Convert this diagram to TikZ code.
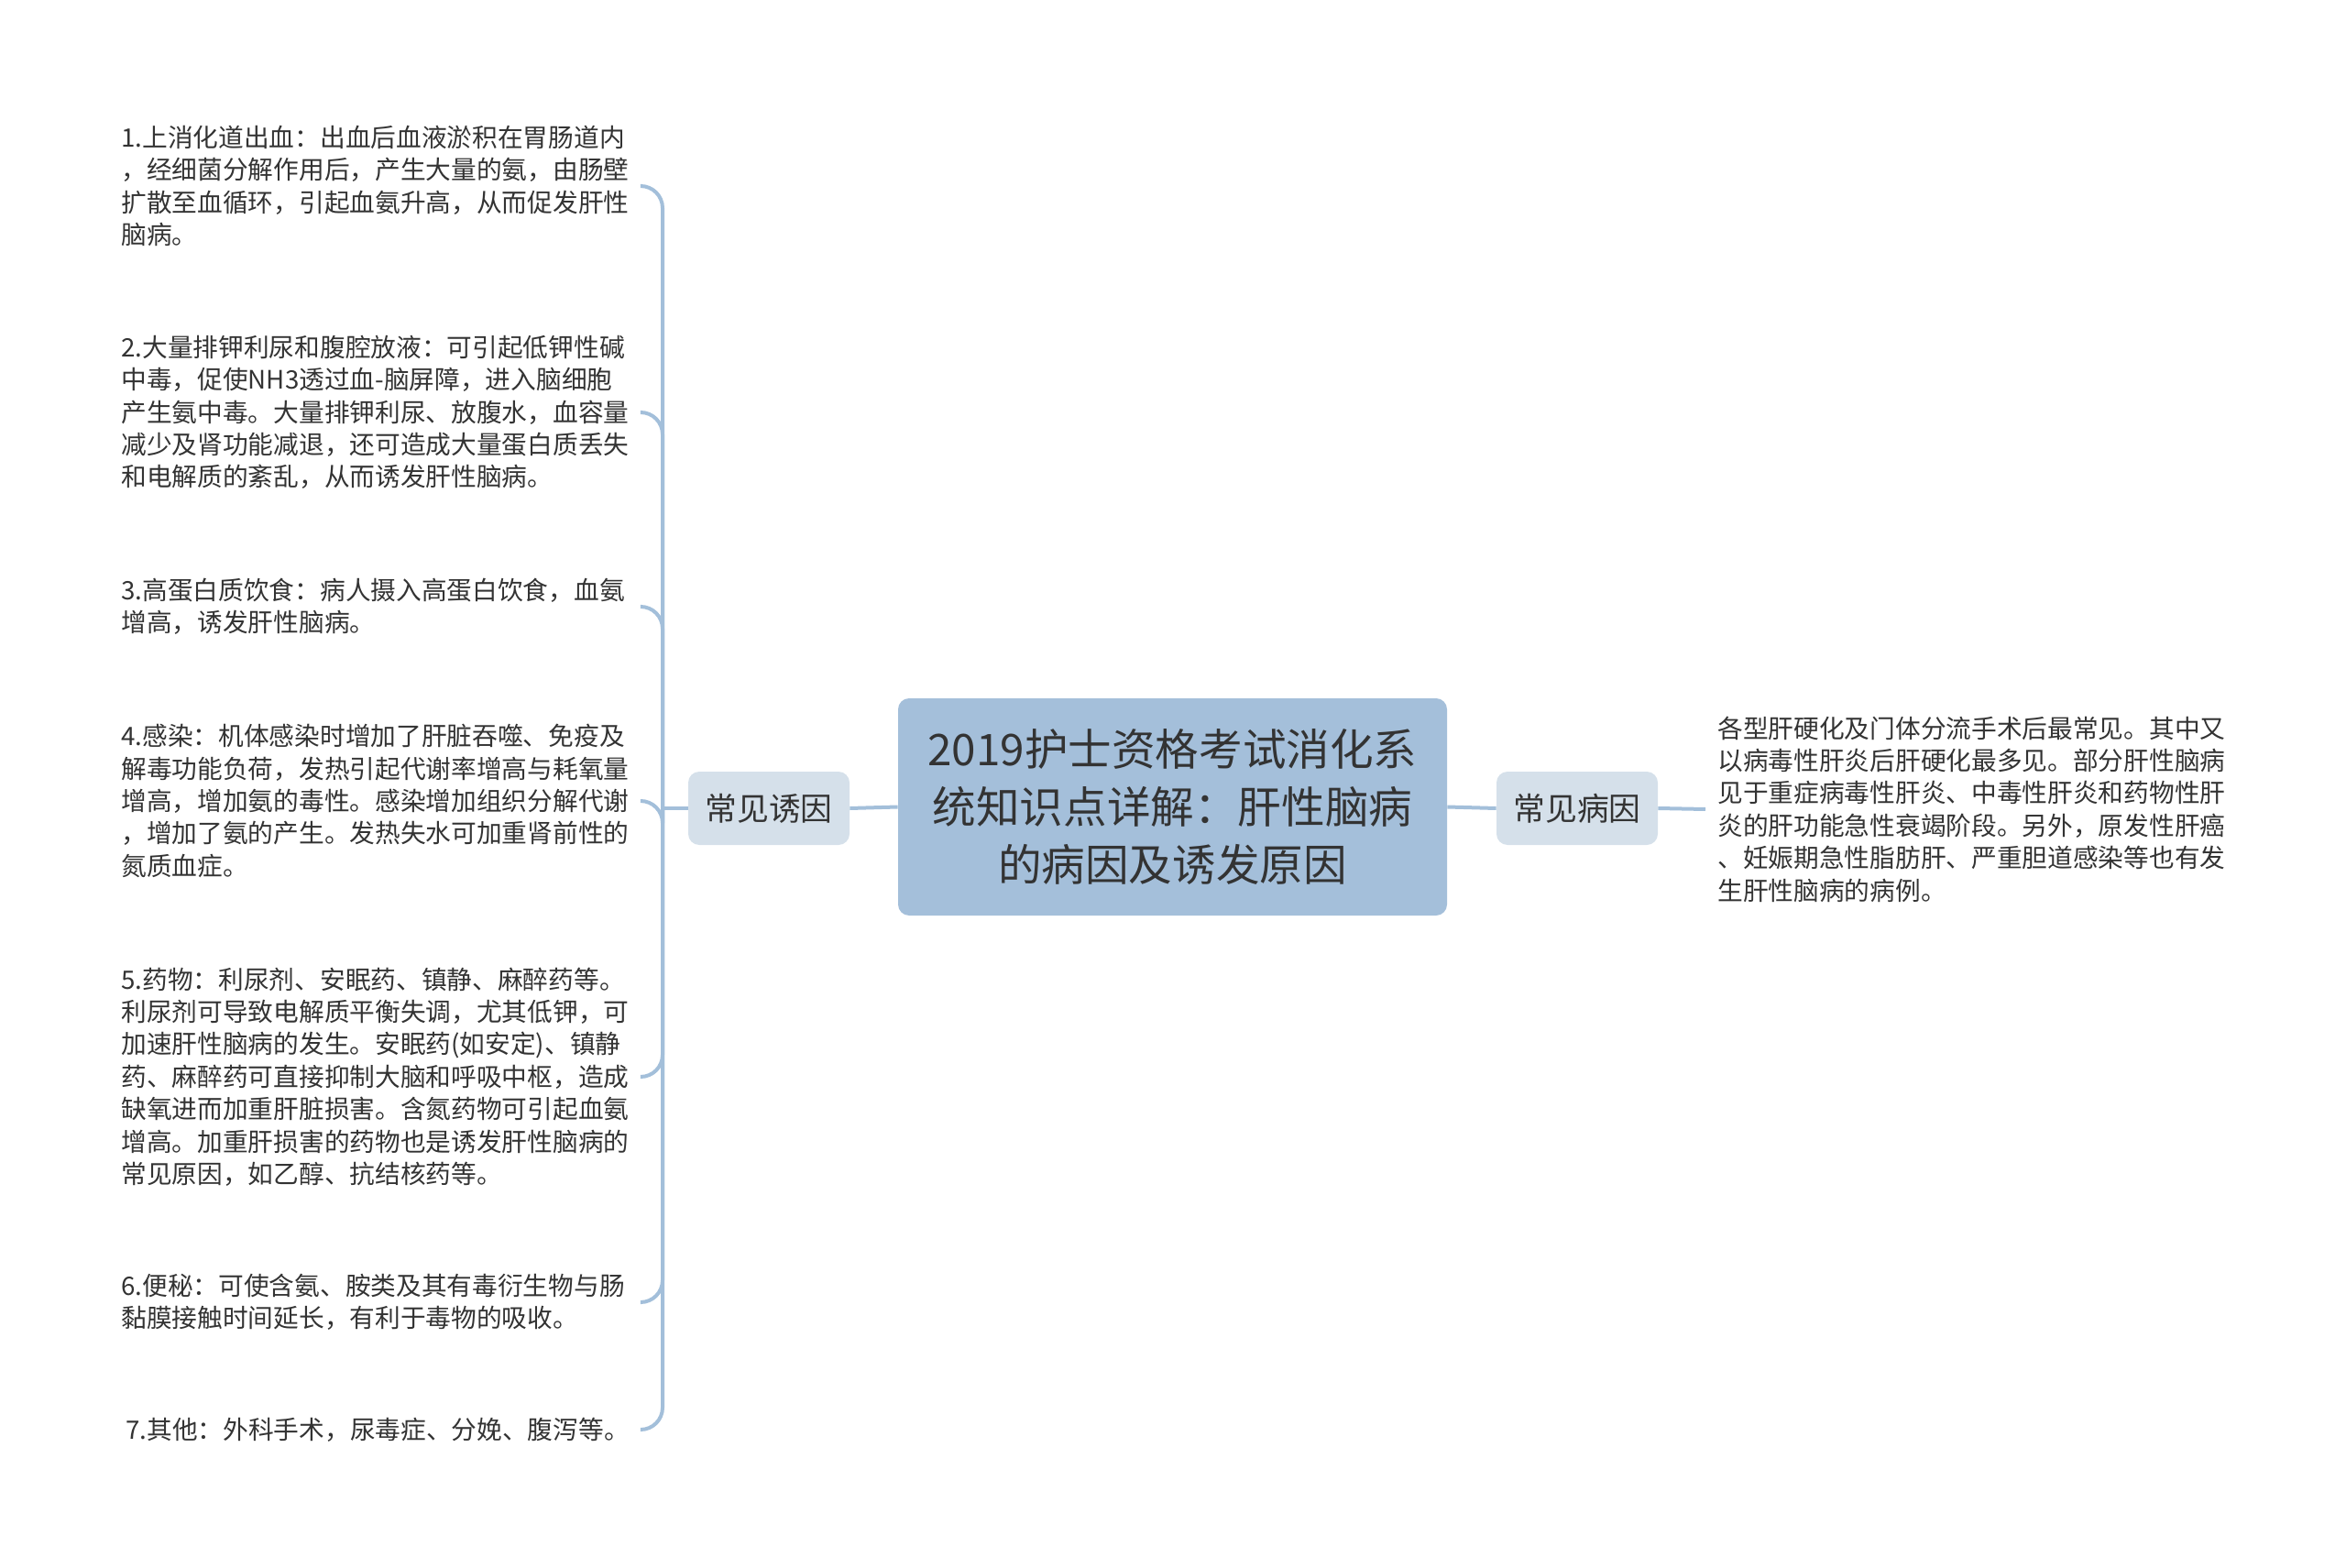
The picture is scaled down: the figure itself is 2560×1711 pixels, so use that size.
\documentclass[tikz,border=0pt]{standalone}
\usepackage{fontspec}
\setmainfont{Noto Sans CJK SC}
\usepackage{xcolor}
\usepackage{tikz}
\definecolor{linkblue}{HTML}{A3BFDA}
\definecolor{rootfill}{HTML}{A4BFDA}
\definecolor{subfill}{HTML}{D5E0EA}
\definecolor{textgray}{HTML}{333333}

\begin{document}
\begin{tikzpicture}[x=0.5pt,y=0.5pt,yscale=-1,xscale=1,
    link/.style={draw=linkblue, line width=2pt},
    item/.style={anchor=west, inner sep=0pt, text width=283.5pt, align=left, text=textgray,
        font=\fontsize{13.85pt}{17.7pt}\selectfont},
    topic/.style={fill=subfill, rounded corners=6pt, minimum width=88pt, minimum height=40pt,
        inner sep=0pt, text=textgray, font=\fontsize{17.4pt}{20pt}\selectfont}]
    \useasboundingbox (0,0) rectangle (2560,1711);

    % Root Node
    \node [fill=rootfill, rounded corners=6pt, minimum width=299.5pt, minimum height=118.5pt,
        inner sep=0pt, align=center, text=black!80, font=\fontsize{23.8pt}{31.5pt}\selectfont]
        (root) at (1279.5,880.5) {2019护士资格考试消化系\\统知识点详解：肝性脑病\\的病因及诱发原因};

    % Topic Nodes
    \node [topic] (youyin) at (839,882) {常见诱因};
    \node [topic] (bingyin) at (1721,882) {常见病因};

    % Text Node
    \node [item, text width=306pt, inner xsep=6.5pt] (bytext) at (1861,883) {各型肝硬化及门体分流手术后最常见。其中又\\以病毒性肝炎后肝硬化最多见。部分肝性脑病\\见于重症病毒性肝炎、中毒性肝炎和药物性肝\\炎的肝功能急性衰竭阶段。另外，原发性肝癌\\、妊娠期急性脂肪肝、严重胆道感染等也有发\\生肝性脑病的病例。};

    % Text Node
    \node [item] (yy1) at (132,203) {1.上消化道出血：出血后血液淤积在胃肠道内\\，经细菌分解作用后，产生大量的氨，由肠壁\\扩散至血循环，引起血氨升高，从而促发肝性\\脑病。};
    % Text Node
    \node [item] (yy2) at (132,450) {2.大量排钾利尿和腹腔放液：可引起低钾性碱\\中毒，促使NH3透过血-脑屏障，进入脑细胞\\产生氨中毒。大量排钾利尿、放腹水，血容量\\减少及肾功能减退，还可造成大量蛋白质丢失\\和电解质的紊乱，从而诱发肝性脑病。};
    % Text Node
    \node [item] (yy3) at (132,662) {3.高蛋白质饮食：病人摄入高蛋白饮食，血氨\\增高，诱发肝性脑病。};
    % Text Node
    \node [item] (yy4) at (132,874) {4.感染：机体感染时增加了肝脏吞噬、免疫及\\解毒功能负荷，发热引起代谢率增高与耗氧量\\增高，增加氨的毒性。感染增加组织分解代谢\\，增加了氨的产生。发热失水可加重肾前性的\\氮质血症。};
    % Text Node
    \node [item] (yy5) at (132,1175) {5.药物：利尿剂、安眠药、镇静、麻醉药等。\\利尿剂可导致电解质平衡失调，尤其低钾，可\\加速肝性脑病的发生。安眠药(如安定)、镇静\\药、麻醉药可直接抑制大脑和呼吸中枢，造成\\缺氧进而加重肝脏损害。含氮药物可引起血氨\\增高。加重肝损害的药物也是诱发肝性脑病的\\常见原因，如乙醇、抗结核药等。};
    % Text Node
    \node [item] (yy6) at (132,1421) {6.便秘：可使含氨、胺类及其有毒衍生物与肠\\黏膜接触时间延长，有利于毒物的吸收。};
    % Text Node
    \node [item, text width=281pt] (yy7) at (137,1560) {7.其他：外科手术，尿毒症、分娩、腹泻等。};

    %Straight Lines
    \draw [link] (root.west) -- (youyin.east);
    \draw [link] (root.east) -- (bingyin.west);
    \draw [link] (bingyin.east) -- (bytext.west);
    \coordinate (trunk) at (723,882);
    \draw [link] (youyin.west) -- (trunk);
    %Curved Lines
    \foreach \i in {1,...,7}
        \draw [link, rounded corners=12pt] (trunk) |- (yy\i.east);

\end{tikzpicture}
\end{document}
